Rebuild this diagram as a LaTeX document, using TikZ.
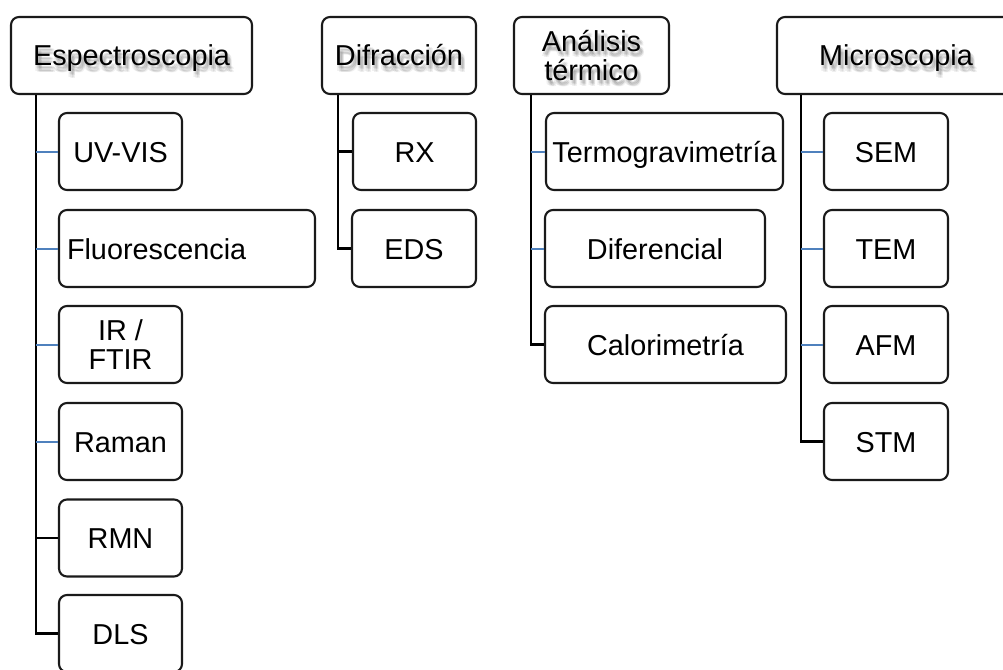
\documentclass[tikz,border=0pt]{standalone}
\usepackage{fontspec}
\setmainfont{Liberation Sans}
\usetikzlibrary{calc}

\definecolor{boxline}{HTML}{1A1A1A}
\definecolor{twigblue}{HTML}{4F81BD}

\tikzset{
  lbl/.style={font=\fontsize{28.8}{29.5}\selectfont, align=center, inner sep=0pt},
  card/.style={lbl, draw=boxline, line width=2.1pt, rounded corners=8pt,
               minimum height=77pt},
  % single-line labels: centre on the capital letters, ignoring descenders
  oneline/.style={text height=21pt, text depth=0pt},
  halo/.style={lbl, text=black, opacity=0.06},
  spine/.style={draw=black, line width=2.2pt},
  twig/.style={draw=twigblue, line width=2pt},
}

% soft drop shadow behind a heading text: name, x, y, extra style, text
\newcommand\headshadow[5]{%
  \foreach \dx/\dy [count=\k] in {1/3,3/3,2/4,4/4,2/6,4/6,3/5,0/5}
    \node[halo, #4] (#1s\k) at ({#2+\dx},{#3+\dy}) {#5};
}

\begin{document}
\begin{tikzpicture}[x=1pt,y=-1pt]
  \useasboundingbox (0,0) rectangle (1003,669);
  \clip (0,0) rectangle (1003,669);

  % ---------- headings ----------
  \headshadow{esp}{131.5}{55.5}{oneline}{Espectroscopia}
  \node[card, oneline, minimum width=241pt] (esp) at (131.5,55.5) {Espectroscopia};

  \headshadow{dif}{399}{55.5}{oneline}{Difracción}
  \node[card, oneline, minimum width=154pt] (dif) at (399,55.5) {Difracción};

  \headshadow{ana}{591.5}{55.5}{}{Análisis\\térmico}
  \node[card, minimum width=155pt] (ana) at (591.5,55.5) {Análisis\\térmico};

  \headshadow{mic}{896}{55.5}{oneline}{Microscopia}
  \node[card, oneline, minimum width=238pt] (mic) at (896,55.5) {Microscopia};

  % ---------- Espectroscopia ----------
  \node[card, oneline, minimum width=123pt] (uv)  at (120.5,151.5) {UV-VIS};
  \node[card, oneline, minimum width=256pt, text width=240pt, align=left, inner xsep=8pt]
       (flu) at (187,248.5) {Fluorescencia};
  \node[card, minimum width=123pt] (ir)  at (120.5,344.5) {IR /\\FTIR};
  \node[card, oneline, minimum width=123pt] (ram) at (120.5,441.5) {Raman};
  \node[card, oneline, minimum width=123pt] (rmn) at (120.5,538) {RMN};
  \node[card, oneline, minimum width=123pt] (dls) at (120.5,633.5) {DLS};

  % ---------- Difracción ----------
  \node[card, oneline, minimum width=123pt] (rx)  at (414.5,151.5) {RX};
  \node[card, oneline, minimum width=124pt] (eds) at (414,248.5) {EDS};

  % ---------- Análisis térmico ----------
  \node[card, oneline, minimum width=237pt] (ter) at (664.5,151.5) {Termogravimetría};
  \node[card, oneline, minimum width=220pt] (dfr) at (655,248.5) {Diferencial};
  \node[card, oneline, minimum width=241pt] (cal) at (665.5,344.5) {Calorimetría};

  % ---------- Microscopia ----------
  \node[card, oneline, minimum width=124pt] (sem) at (886,151.5) {SEM};
  \node[card, oneline, minimum width=124pt] (tem) at (886,248.5) {TEM};
  \node[card, oneline, minimum width=124pt] (afm) at (886,344.5) {AFM};
  \node[card, oneline, minimum width=124pt] (stm) at (886,441.5) {STM};

  % ---------- spines ----------
  \coordinate (espS) at (36,0);
  \coordinate (difS) at (338,0);
  \coordinate (anaS) at (531,0);
  \coordinate (micS) at (801,0);

  \draw[spine] (esp.south -| espS) |- (dls.west);
  \draw[spine] (dif.south -| difS) |- (eds.west);
  \draw[spine] (ana.south -| anaS) |- (cal.west);
  \draw[spine] (mic.south -| micS) |- (stm.west);

  % ---------- branches ----------
  \draw[twig]  (uv.west  -| espS) -- (uv.west);
  \draw[twig]  (flu.west -| espS) -- (flu.west);
  \draw[twig]  (ir.west  -| espS) -- (ir.west);
  \draw[twig]  (ram.west -| espS) -- (ram.west);
  \draw[spine] (rmn.west -| espS) -- (rmn.west);

  \draw[spine] (rx.west  -| difS) -- (rx.west);

  \draw[twig]  (ter.west -| anaS) -- (ter.west);
  \draw[twig]  (dfr.west -| anaS) -- (dfr.west);

  \draw[twig]  (sem.west -| micS) -- (sem.west);
  \draw[twig]  (tem.west -| micS) -- (tem.west);
  \draw[twig]  (afm.west -| micS) -- (afm.west);
\end{tikzpicture}
\end{document}
